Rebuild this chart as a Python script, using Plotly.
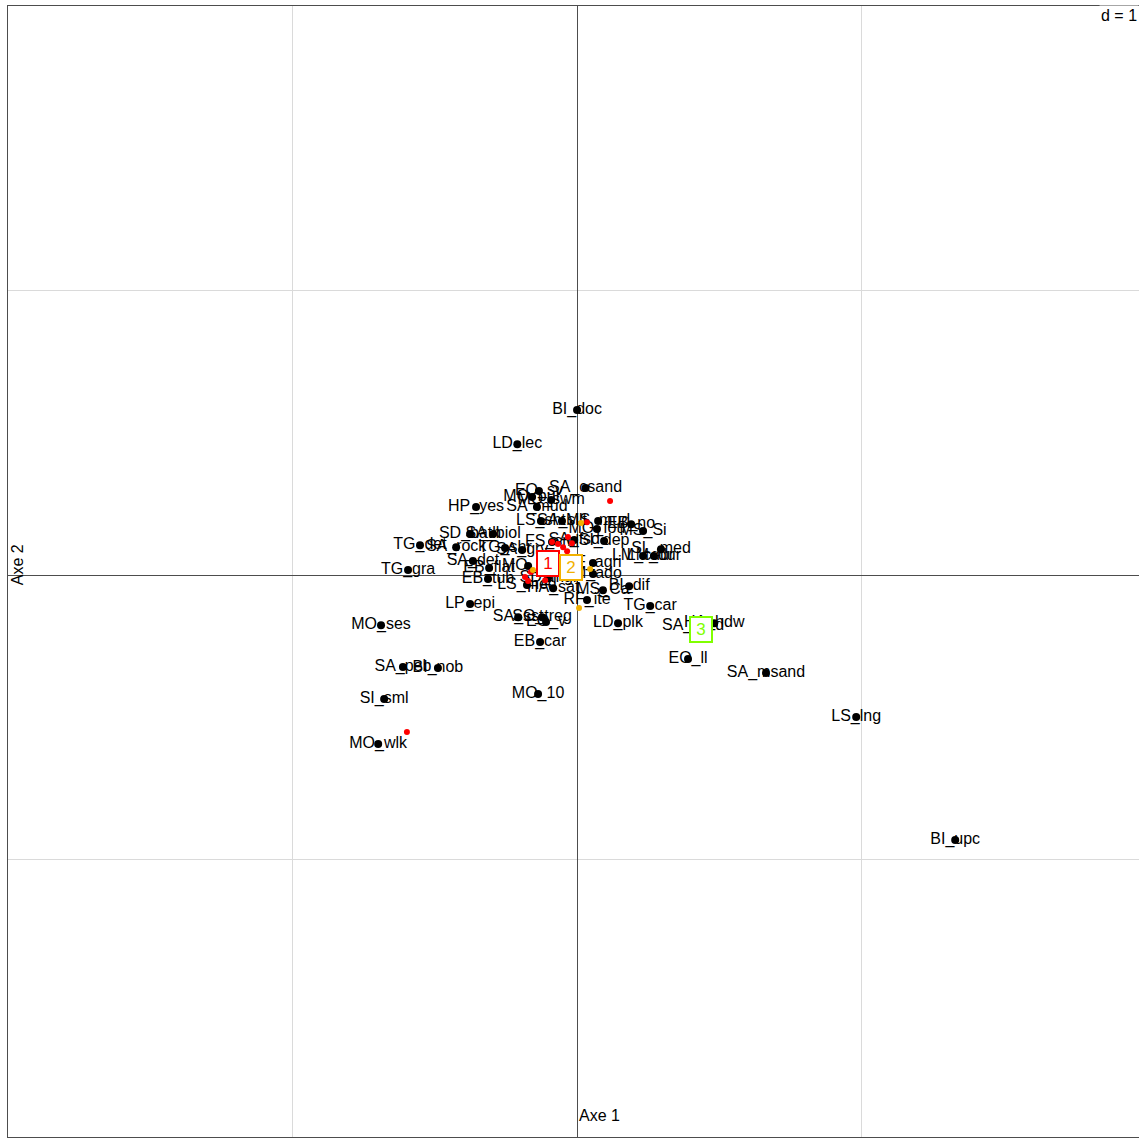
import numpy as np
import plotly.graph_objects as go

# Category scores on the first two axes
cat_labels = [
    "BI_doc", "LD_lec", "SA_csand", "EO_sv", "MO_bur", "MO_swm", "SA_mud", "HP_yes",
    "LS_sht", "SA_silt", "MS_mud", "EB_no", "MO_fou", "MS_Si", "SI_dep", "SL_med",
    "LM_cdur", "LM_dur", "SD_bath", "SA_biol", "TG_det", "SA_rock", "TG_shr", "SA_grv",
    "FS_sml", "SA_det", "TG_gra", "EB_flat", "MO_att", "EB_tub", "LS_med", "HA_sat",
    "MS_Ca", "BI_dif", "RF_ite", "RF_agri", "LM_ado", "SA_sst", "SO_treg", "EO_v",
    "LP_epi", "EB_car", "TG_car", "LD_plk", "SA_hard", "HA_hdw", "EO_ll", "SA_msand",
    "LS_lng", "BI_upc", "MO_ses", "SA_peb", "BI_nob", "SI_sml", "MO_wlk", "MO_10",
    "SA_fsd", "SD_mgl",
]
cat_x = [
    0.00, -0.21, 0.03, -0.134, -0.158, -0.091, -0.141, -0.355,
    -0.127, -0.053, 0.074, 0.19, 0.07, 0.232, 0.095, 0.295,
    0.232, 0.27, -0.376, -0.295, -0.552, -0.425, -0.253, -0.193,
    -0.088, -0.366, -0.594, -0.309, -0.172, -0.313, -0.176, -0.084,
    0.091, 0.183, 0.035, 0.056, 0.056, -0.207, -0.123, -0.109,
    -0.376, -0.13, 0.257, 0.144, 0.408, 0.482, 0.39, 0.664,
    0.981, 1.329, -0.689, -0.612, -0.489, -0.678, -0.699, -0.137,
    -0.01, -0.102,
]
cat_y = [
    0.58, 0.46, 0.306, 0.295, 0.274, 0.264, 0.239, 0.239,
    0.19, 0.19, 0.19, 0.179, 0.162, 0.155, 0.12, 0.091,
    0.067, 0.067, 0.144, 0.144, 0.105, 0.098, 0.095, 0.088,
    0.116, 0.049, 0.018, 0.025, 0.032, -0.014, -0.035, -0.046,
    -0.053, -0.039, -0.088, 0.042, 0.004, -0.148, -0.148, -0.165,
    -0.102, -0.235, -0.109, -0.169, -0.179, -0.169, -0.295, -0.344,
    -0.499, -0.931, -0.176, -0.323, -0.327, -0.436, -0.594, -0.418,
    0.123, -0.011,
]

# Site scores grouped by cluster
g1_x = [0.116, 0.035, -0.032, -0.018, -0.049, -0.035, -0.088, -0.067,
        -0.183, -0.172, -0.162, -0.084, -0.598, -0.112]
g1_y = [0.26, 0.186, 0.134, 0.112, 0.098, 0.084, 0.116, 0.109,
        -0.007, -0.021, 0.011, 0.077, -0.552, -0.018]
g2_x = [0.014, 0.046, 0.007, -0.155]
g2_y = [0.183, 0.021, -0.116, 0.018]
g3_x = [0.436]
g3_y = [-0.19]

groups = [("1", g1_x, g1_y, "#ff0000"),
          ("2", g2_x, g2_y, "#f2b100"),
          ("3", g3_x, g3_y, "#80ff00")]

FONT = "Liberation Sans, Arial, sans-serif"

fig = go.Figure()

# labels first, dots drawn over them
fig.add_trace(go.Scatter(
    x=cat_x, y=cat_y, mode="text", text=cat_labels,
    textposition="middle center",
    textfont=dict(family=FONT, size=16, color="black"),
    hoverinfo="skip", showlegend=False,
))
fig.add_trace(go.Scatter(
    x=cat_x, y=cat_y, mode="markers",
    marker=dict(size=8, color="black"),
    hovertext=cat_labels, showlegend=False,
))

annotations = []
for name, gx, gy, col in groups:
    fig.add_trace(go.Scatter(
        x=gx, y=gy, mode="markers",
        marker=dict(size=6, color=col),
        name=name, showlegend=False,
    ))
    # class label boxed at the group centroid
    cx, cy = float(np.mean(gx)), float(np.mean(gy))
    annotations.append(dict(
        x=cx, y=cy, xref="x", yref="y", text=name, showarrow=False,
        font=dict(family=FONT, size=17, color=col),
        bgcolor="white", bordercolor=col, borderwidth=2, borderpad=2,
        width=16, height=19,
    ))

annotations += [
    dict(x=0.0, y=-1.898, xref="x", yref="y", text="Axe 1", showarrow=False,
         xanchor="left", yanchor="middle",
         font=dict(family=FONT, size=16, color="black")),
    dict(x=-1.968, y=0.035, xref="x", yref="y", text="Axe 2", showarrow=False,
         textangle=-90, xanchor="center", yanchor="middle",
         font=dict(family=FONT, size=16, color="black")),
    dict(x=1.975, y=1.965, xref="x", yref="y", text="d = 1", showarrow=False,
         xanchor="right", yanchor="middle", bgcolor="white",
         font=dict(family=FONT, size=16, color="black")),
]

axis_common = dict(
    showgrid=True, gridcolor="#dadada", gridwidth=1,
    dtick=1, tick0=0,
    zeroline=True, zerolinecolor="#4d4d4d", zerolinewidth=1,
    showticklabels=False, ticks="",
    showline=True, mirror=True, linecolor="#4d4d4d", linewidth=1,
)

fig.update_layout(
    width=1139, height=1138,
    margin=dict(l=8, r=0, t=6, b=1),
    paper_bgcolor="white", plot_bgcolor="white",
    xaxis=dict(range=[-2.0, 1.975], **axis_common),
    yaxis=dict(range=[-1.975, 2.0], **axis_common),
    annotations=annotations,
    showlegend=False,
)

fig.write_html("out.html")
